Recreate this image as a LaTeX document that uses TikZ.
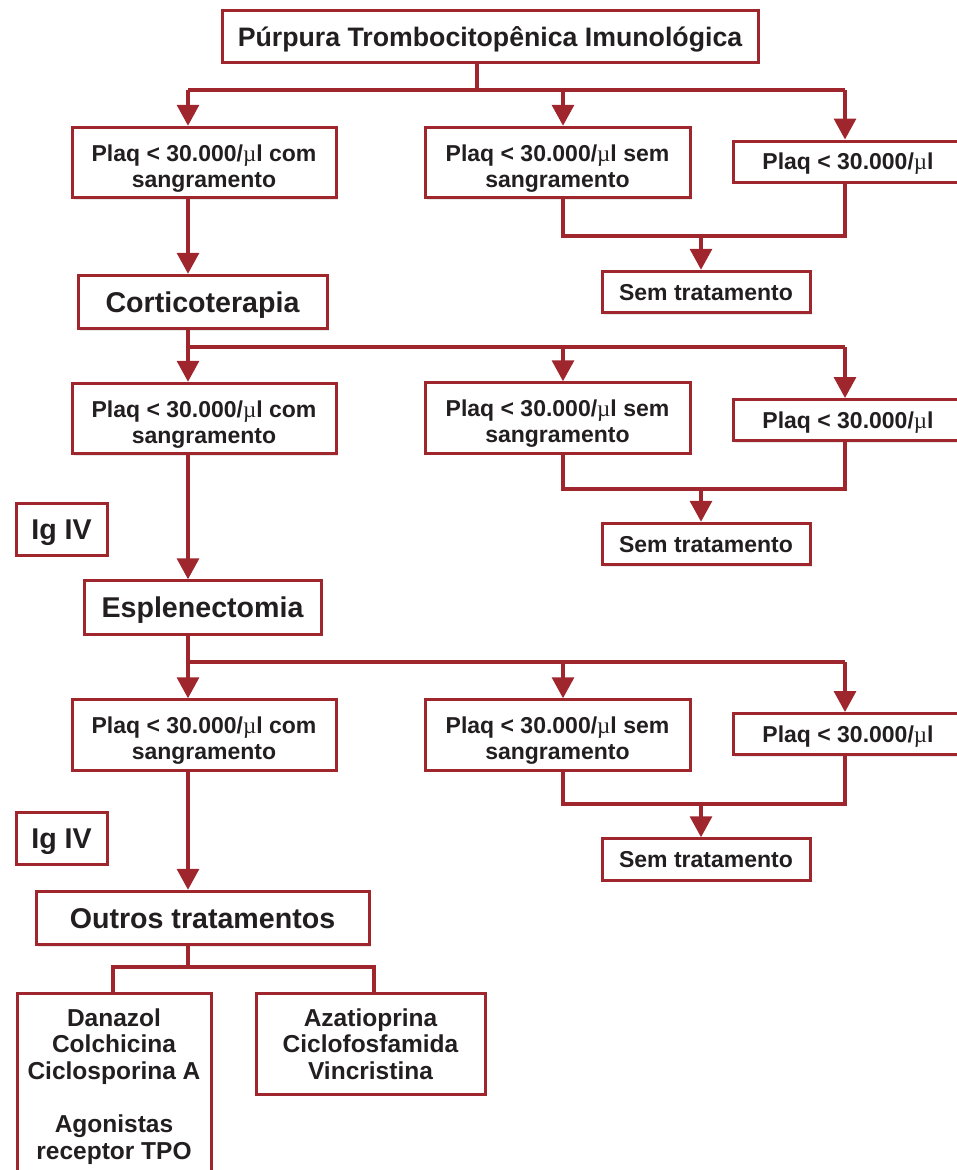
\documentclass[tikz,border=0pt]{standalone}
\usepackage{fontspec}
\setmainfont{Liberation Sans}
\newfontfamily\mufont{Liberation Serif}
\usepackage{tikz}
\usetikzlibrary{arrows.meta,shadows}
\definecolor{fcred}{RGB}{158,38,44}
\definecolor{fctext}{RGB}{35,31,32}
\newcommand{\microl}{{\mufont\mdseries µ}l}

\tikzset{
  box/.style={draw=fcred, line width=3pt, fill=white, text=fctext, align=center,
    inner xsep=0pt, drop shadow={shadow xshift=2pt, shadow yshift=-2pt, opacity=0.18}},
  titlebox/.style={box, minimum width=536pt, font=\bfseries\fontsize{26.7}{30}\selectfont,
    text height=19.1pt, text depth=0pt, inner ysep=16pt},
  headbox/.style={box, font=\bfseries\fontsize{28.6}{32}\selectfont,
    text height=20.5pt, text depth=0pt, inner ysep=16.5pt},
  plaq/.style={box, minimum width=264pt, font=\bfseries\fontsize{23}{26}\selectfont,
    text height=50.2pt, text depth=0.3pt, inner ysep=10pt},
  plaqone/.style={box, minimum width=230pt, font=\bfseries\fontsize{23}{26}\selectfont,
    text height=16.5pt, text depth=0pt, inner ysep=12.25pt},
  sembox/.style={box, minimum width=208pt, font=\bfseries\fontsize{23}{26}\selectfont,
    text height=16.5pt, text depth=0pt, inner ysep=12.5pt},
  drugbox/.style={box, anchor=north, font=\bfseries\fontsize{24.5}{26.7}\selectfont,
    inner ysep=15pt},
  fcline/.style={draw=fcred, line width=3.4pt},
}

\begin{document}
\begin{tikzpicture}[x=1pt, y=-1pt, >={Triangle[width=22pt,length=21pt]}]
  \useasboundingbox (0,0) rectangle (957,1170);

  % first level
  \node [titlebox] (title) at (490,36.5) {Púrpura Trombocitopênica Imunológica};
  \node [plaq] (a1) at (204,162.5) {Plaq < 30.000/\microl{} com\\sangramento};
  \node [plaq, minimum width=265pt] (b1) at (557.5,162.5) {Plaq < 30.000/\microl{} sem\\sangramento};
  \node [plaqone] (c1) at (848,161.5) {Plaq < 30.000/\microl};
  \node [sembox] (s1) at (706,292) {Sem tratamento};
  \node [headbox, minimum width=249pt] (cortico) at (202.5,302) {Corticoterapia};

  % second level
  \node [plaq] (a2) at (204,418.5) {Plaq < 30.000/\microl{} com\\sangramento};
  \node [plaq, minimum width=265pt] (b2) at (557.5,418) {Plaq < 30.000/\microl{} sem\\sangramento};
  \node [plaqone] (c2) at (848,420) {Plaq < 30.000/\microl};
  \node [sembox] (s2) at (706,544) {Sem tratamento};
  \node [headbox, minimum width=91pt, inner ysep=15.3pt] (ig1) at (61.5,529.5) {Ig IV};
  \node [headbox, minimum width=237pt] (esplen) at (202.5,607.5) {Esplenectomia};

  % third level
  \node [plaq] (a3) at (204,735) {Plaq < 30.000/\microl{} com\\sangramento};
  \node [plaq, minimum width=265pt] (b3) at (557.5,735) {Plaq < 30.000/\microl{} sem\\sangramento};
  \node [plaqone] (c3) at (848,734) {Plaq < 30.000/\microl};
  \node [sembox] (s3) at (706,859.5) {Sem tratamento};
  \node [headbox, minimum width=91pt, inner ysep=15.3pt] (ig2) at (61.5,838.5) {Ig IV};
  \node [headbox, minimum width=333pt] (outros) at (202.5,918) {Outros tratamentos};

  % other treatments
  \node [drugbox, minimum width=194pt, text height=151pt] (d) at (114,992) {Danazol\\Colchicina\\Ciclosporina A\\[26.7pt]Agonistas\\receptor TPO};
  \node [drugbox, minimum width=229pt, text height=70.9pt, text depth=0pt] (e) at (370.5,992) {Azatioprina\\Ciclofosfamida\\Vincristina};

  % forks
  \coordinate (r1) at (477,90);
  \coordinate (r1L) at (188,90);
  \coordinate (r1M) at (563,90);
  \coordinate (r1R) at (845,90);
  \coordinate (j1) at (701,236);
  \coordinate (r2L) at (188,347);
  \coordinate (r2M) at (563,347);
  \coordinate (r2R) at (845,347);
  \coordinate (j2) at (701,489);
  \coordinate (r3L) at (188,662);
  \coordinate (r3M) at (563,662);
  \coordinate (r3R) at (845,662);
  \coordinate (j3) at (701,804);
  \coordinate (f4) at (188,967);
  \coordinate (f4L) at (113,967);
  \coordinate (f4R) at (374,967);

  \draw[fcline] (title.south -| r1) -- (r1);
  \draw[fcline] (r1L) -- (r1R);
  \draw[fcline,->] (r1L) -- (r1L |- a1.north);
  \draw[fcline,->] (r1M) -- (r1M |- b1.north);
  \draw[fcline,->] (r1R) -- (r1R |- c1.north);
  \draw[fcline] (b1.south -| r1M) |- (j1) -| (c1.south -| r1R);
  \draw[fcline,->] (j1) -- (j1 |- s1.north);
  \draw[fcline,->] (a1.south -| r1L) -- (cortico.north -| r1L);

  \draw[fcline] (cortico.south -| r2L) -- (r2L) -- (r2R);
  \draw[fcline,->] (r2L) -- (r2L |- a2.north);
  \draw[fcline,->] (r2M) -- (r2M |- b2.north);
  \draw[fcline,->] (r2R) -- (r2R |- c2.north);
  \draw[fcline] (b2.south -| r2M) |- (j2) -| (c2.south -| r2R);
  \draw[fcline,->] (j2) -- (j2 |- s2.north);
  \draw[fcline,->] (a2.south -| r2L) -- (esplen.north -| r2L);

  \draw[fcline] (esplen.south -| r3L) -- (r3L) -- (r3R);
  \draw[fcline,->] (r3L) -- (r3L |- a3.north);
  \draw[fcline,->] (r3M) -- (r3M |- b3.north);
  \draw[fcline,->] (r3R) -- (r3R |- c3.north);
  \draw[fcline] (b3.south -| r3M) |- (j3) -| (c3.south -| r3R);
  \draw[fcline,->] (j3) -- (j3 |- s3.north);
  \draw[fcline,->] (a3.south -| r3L) -- (outros.north -| r3L);

  \draw[fcline] (outros.south -| f4) -- (f4);
  \draw[fcline] (d.north -| f4L) |- (f4R) -- (e.north -| f4R);

\end{tikzpicture}
\end{document}
